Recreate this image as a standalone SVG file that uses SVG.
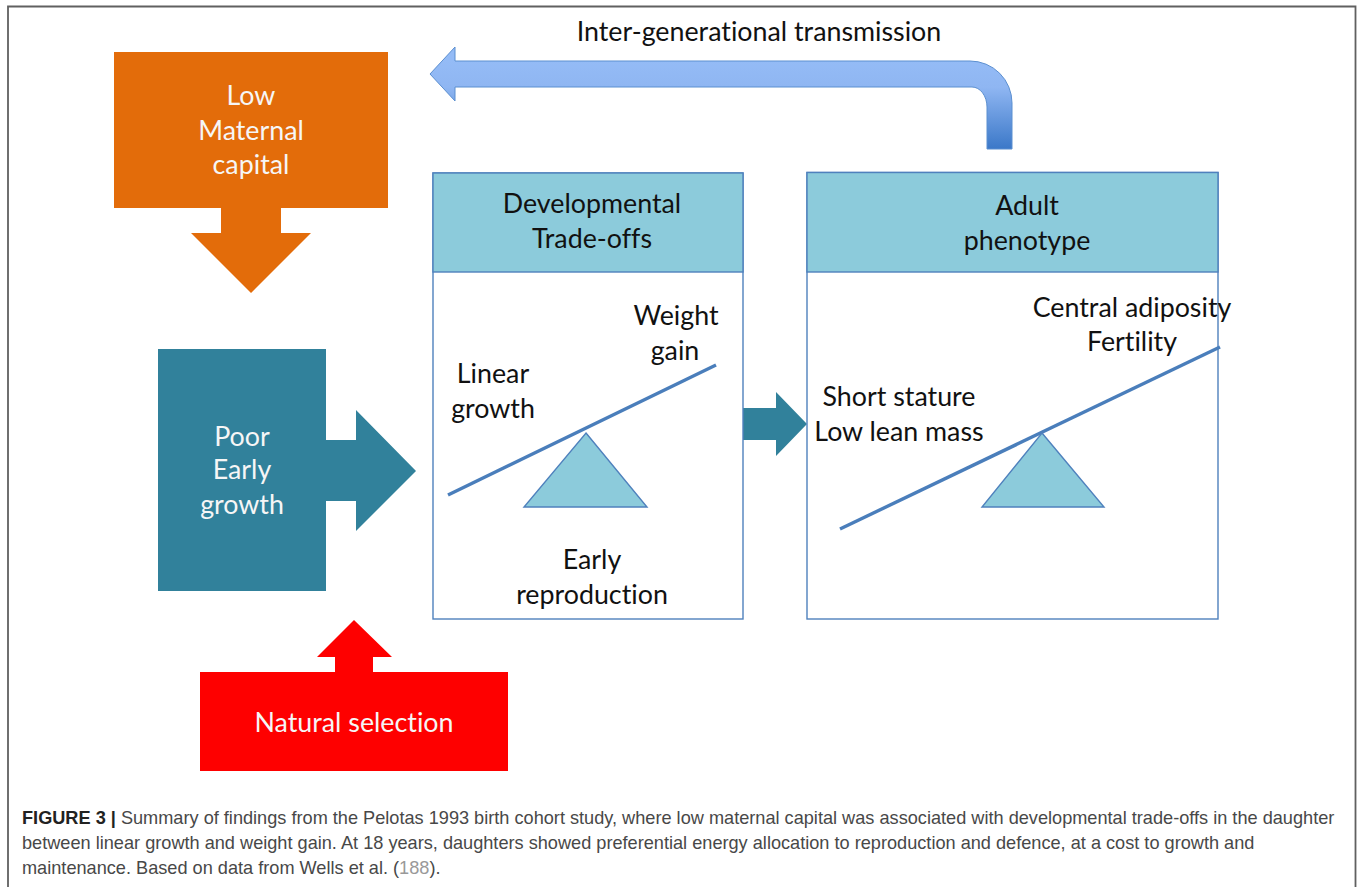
<svg xmlns="http://www.w3.org/2000/svg" width="1358" height="887" viewBox="0 0 1358 887">
<style>
.l{font-family:Lato,"Liberation Sans",sans-serif;font-size:26.8px;fill:#111;text-anchor:middle;font-variant-ligatures:none}
.w{fill:#f6f6f6}
.c{font-family:"Liberation Sans",Arial,sans-serif;font-size:18.16px;fill:#484848}
.b{stroke:#4f81bd;stroke-width:1.4;fill:#fff}
.h{stroke:#4f81bd;stroke-width:1.4;fill:#8ccbdb}
.s{stroke:#4a7ebb;stroke-width:3.4;fill:none}
</style>
<defs><linearGradient id="g" gradientUnits="userSpaceOnUse" x1="0" y1="61" x2="0" y2="149"><stop offset="0" stop-color="#94bbf6"/><stop offset=".3" stop-color="#8fb6f2"/><stop offset="1" stop-color="#3b78c8"/></linearGradient></defs>
<rect width="1358" height="887" fill="#fff"/>
<path d="M8 887V6.500H1355.500V887" fill="none" stroke="#606060" stroke-width="1.800"/>
<g id="connectors">
<path id="transmission" d="M430 74L455 47V61H970A42 42 0 0 1 1012 103V149H987V107A15 20 0 0 0 972 87H455V101Z" fill="url(#g)" stroke="#5b8fd0" stroke-width="1"/>
<path id="trade-arrow" d="M743 408H776V392L807 424L776 456V440H743Z" fill="#31819b"/>
</g>
<g id="maternal"><path d="M114 52H388V208H281V233H311L251 293L191 233H221V208H114Z" fill="#e36c0a"/>
<text class="l w" x="251" y="105">Low</text><text class="l w" x="251" y="140">Maternal</text><text class="l w" x="251" y="174">capital</text></g>
<g id="early-growth"><path d="M158 349H326V440H356V410L416 471L356 531V501H326V591H158Z" fill="#31819b"/>
<text class="l w" x="242" y="446">Poor</text><text class="l w" x="242" y="479">Early</text><text class="l w" x="242" y="514">growth</text></g>
<g id="selection"><path d="M200 672H335V657H317L354 620L392 657H373V672H508V771H200Z" fill="#fe0000"/>
<text class="l w" x="354" y="732">Natural selection</text></g>
<g id="developmental"><rect class="b" x="433" y="173" width="310" height="446"/><rect class="h" x="433" y="173" width="310" height="99"/>
<text class="l" x="592" y="213">Developmental</text><text class="l" x="592" y="248">Trade-offs</text>
<text class="l" x="676" y="325">Weight</text><text class="l" x="675" y="360">gain</text>
<text class="l" x="493" y="383">Linear</text><text class="l" x="493" y="418">growth</text>
<path class="s" d="M448 495L716 365"/><path class="h" d="M586 433L647 507H524Z"/>
<text class="l" x="592" y="569">Early</text><text class="l" x="592" y="604">reproduction</text></g>
<g id="adult"><rect class="b" x="807" y="172.500" width="411" height="446.500"/><rect class="h" x="807" y="172.500" width="411" height="99.500"/>
<text class="l" x="1027" y="215">Adult</text><text class="l" x="1027" y="250">phenotype</text>
<text class="l" x="1132" y="317">Central adiposity</text><text class="l" x="1132" y="351">Fertility</text>
<text class="l" x="899" y="406">Short stature</text><text class="l" x="899" y="441">Low lean mass</text>
<path class="s" d="M840 529L1220 347"/><path class="h" d="M1042 433L1104 507H982Z"/></g>
<g id="caption"><text class="c" x="22" y="824"><tspan font-weight="700" fill="#222">FIGURE 3 |</tspan> Summary of findings from the Pelotas 1993 birth cohort study, where low maternal capital was associated with developmental trade-offs in the daughter</text>
<text class="c" x="22" y="849">between linear growth and weight gain. At 18 years, daughters showed preferential energy allocation to reproduction and defence, at a cost to growth and</text>
<text class="c" x="22" y="874">maintenance. Based on data from Wells et al. (<tspan fill="#999">188</tspan>).</text></g>
<g id="title"><text class="l" x="759" y="41">Inter-generational transmission</text></g>
</svg>
